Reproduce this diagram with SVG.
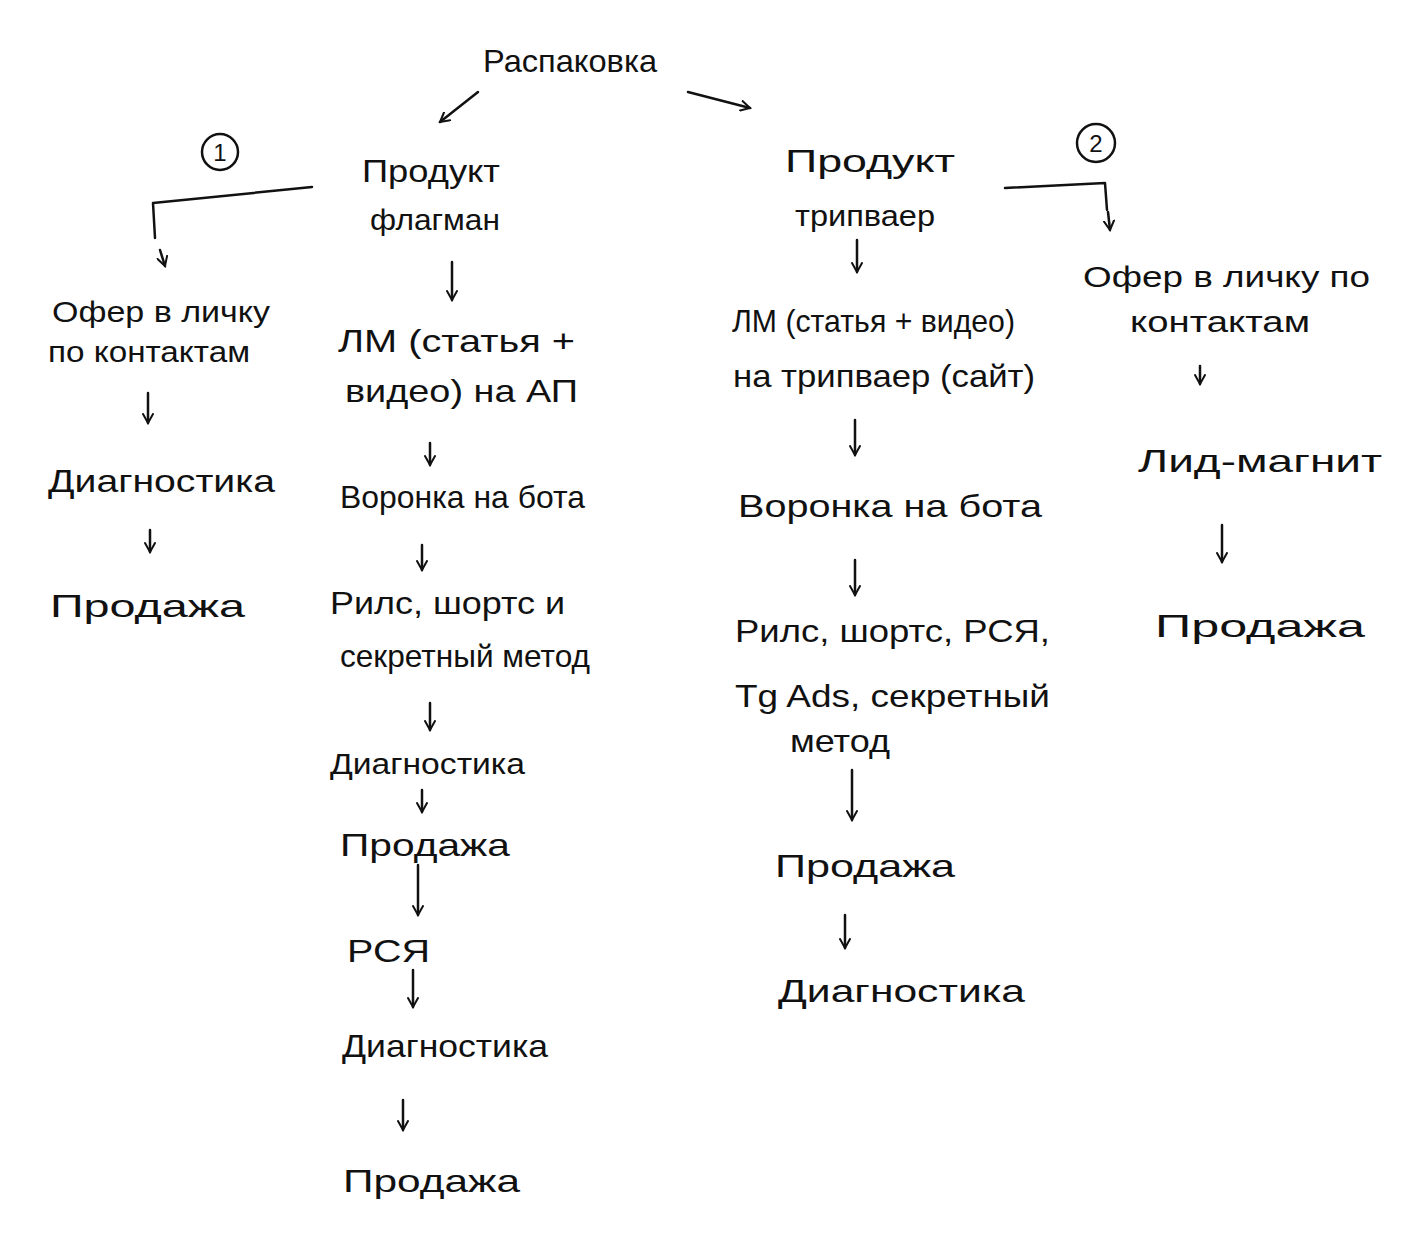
<svg xmlns="http://www.w3.org/2000/svg" width="1403" height="1259" viewBox="0 0 1403 1259">
<style>
text{font-family:"Liberation Sans","DejaVu Sans",sans-serif;fill:#111;}
.t{font-size:32px;}
.s{font-size:29px;}
.c{font-size:24px;text-anchor:middle;}
.ln{fill:none;stroke:#111;stroke-width:2.5;stroke-linecap:round;stroke-linejoin:round;}
.ar{fill:none;stroke:#111;stroke-width:2.5;stroke-linecap:round;marker-end:url(#ah);}
</style>
<defs>
<marker id="ah" viewBox="0 0 12 12" refX="10" refY="6" markerWidth="12" markerHeight="12" markerUnits="userSpaceOnUse" orient="auto">
<path d="M1,1 L10,6 L1,11" fill="none" stroke="#111" stroke-width="2" stroke-linecap="round"/>
</marker>
</defs>
<rect width="1403" height="1259" fill="#fff"/>

<g id="connectors">
<path class="ar" d="M478,92 L440,122"/>
<path class="ar" d="M688,92 L750,108"/>
<path class="ln" d="M312,187 L153,203 L155,238"/>
<path class="ar" d="M160,250 L165,266"/>
<path class="ln" d="M1005,188 L1105,183 L1107,210"/>
<path class="ar" d="M1108,212 L1110,230"/>
<path class="ar" d="M148,393 L148,423"/>
<path class="ar" d="M150,530 L150,552"/>
<path class="ar" d="M452,262 L452,300"/>
<path class="ar" d="M430,443 L430,465"/>
<path class="ar" d="M422,545 L422,570"/>
<path class="ar" d="M430,703 L430,730"/>
<path class="ar" d="M422,790 L422,812"/>
<path class="ar" d="M418,865 L418,915"/>
<path class="ar" d="M413,970 L413,1007"/>
<path class="ar" d="M403,1100 L403,1130"/>
<path class="ar" d="M857,240 L857,272"/>
<path class="ar" d="M855,420 L855,455"/>
<path class="ar" d="M855,560 L855,595"/>
<path class="ar" d="M852,770 L852,820"/>
<path class="ar" d="M845,915 L845,948"/>
<path class="ar" d="M1200,366 L1200,384"/>
<path class="ar" d="M1222,525 L1222,562"/>
</g>

<g id="n-root"><text class="t" x="483" y="72" textLength="174" lengthAdjust="spacingAndGlyphs">Распаковка</text></g>
<g id="mark-1"><circle class="ln" cx="220" cy="152" r="18"/><text class="c" x="220" y="161">1</text></g>
<g id="mark-2"><circle class="ln" cx="1096" cy="143" r="19"/><text class="c" x="1096" y="152">2</text></g>

<g id="n-flagship"><text class="t" x="362" y="182" textLength="138" lengthAdjust="spacingAndGlyphs">Продукт</text><text class="s" x="370" y="230" textLength="130" lengthAdjust="spacingAndGlyphs">флагман</text></g>
<g id="n-tripwire"><text class="t" x="785" y="172" textLength="170" lengthAdjust="spacingAndGlyphs">Продукт</text><text class="s" x="795" y="226" textLength="140" lengthAdjust="spacingAndGlyphs">трипваер</text></g>

<g id="n-l-offer"><text class="s" x="52" y="322" textLength="218" lengthAdjust="spacingAndGlyphs">Офер в личку</text><text class="s" x="48" y="362" textLength="202" lengthAdjust="spacingAndGlyphs">по контактам</text></g>
<g id="n-l-diag"><text class="t" x="48" y="492" textLength="227" lengthAdjust="spacingAndGlyphs">Диагностика</text></g>
<g id="n-l-sale"><text class="t" x="50" y="617" textLength="195" lengthAdjust="spacingAndGlyphs">Продажа</text></g>

<g id="n-c2-lm"><text class="t" x="338" y="352" textLength="237" lengthAdjust="spacingAndGlyphs">ЛМ (статья +</text><text class="t" x="345" y="402" textLength="233" lengthAdjust="spacingAndGlyphs">видео) на АП</text></g>
<g id="n-c2-funnel"><text class="t" x="340" y="508" textLength="245" lengthAdjust="spacingAndGlyphs">Воронка на бота</text></g>
<g id="n-c2-reels"><text class="t" x="330" y="614" textLength="235" lengthAdjust="spacingAndGlyphs">Рилс, шортс и</text><text class="t" x="340" y="667" textLength="250" lengthAdjust="spacingAndGlyphs">секретный метод</text></g>
<g id="n-c2-diag1"><text class="s" x="330" y="774" textLength="195" lengthAdjust="spacingAndGlyphs">Диагностика</text></g>
<g id="n-c2-sale1"><text class="t" x="340" y="856" textLength="170" lengthAdjust="spacingAndGlyphs">Продажа</text></g>
<g id="n-c2-rsya"><text class="t" x="347" y="962" textLength="83" lengthAdjust="spacingAndGlyphs">РСЯ</text></g>
<g id="n-c2-diag2"><text class="t" x="342" y="1057" textLength="206" lengthAdjust="spacingAndGlyphs">Диагностика</text></g>
<g id="n-c2-sale2"><text class="t" x="343" y="1192" textLength="177" lengthAdjust="spacingAndGlyphs">Продажа</text></g>

<g id="n-c3-lm"><text class="t" x="732" y="332" textLength="283" lengthAdjust="spacingAndGlyphs">ЛМ (статья + видео)</text><text class="t" x="733" y="387" textLength="302" lengthAdjust="spacingAndGlyphs">на трипваер (сайт)</text></g>
<g id="n-c3-funnel"><text class="t" x="738" y="517" textLength="304" lengthAdjust="spacingAndGlyphs">Воронка на бота</text></g>
<g id="n-c3-reels"><text class="t" x="735" y="642" textLength="315" lengthAdjust="spacingAndGlyphs">Рилс, шортс, РСЯ,</text><text class="t" x="735" y="707" textLength="315" lengthAdjust="spacingAndGlyphs">Tg Ads, секретный</text><text class="t" x="790" y="752" textLength="100" lengthAdjust="spacingAndGlyphs">метод</text></g>
<g id="n-c3-sale"><text class="t" x="775" y="877" textLength="180" lengthAdjust="spacingAndGlyphs">Продажа</text></g>
<g id="n-c3-diag"><text class="t" x="778" y="1002" textLength="247" lengthAdjust="spacingAndGlyphs">Диагностика</text></g>

<g id="n-r-offer"><text class="s" x="1083" y="287" textLength="287" lengthAdjust="spacingAndGlyphs">Офер в личку по</text><text class="s" x="1130" y="332" textLength="180" lengthAdjust="spacingAndGlyphs">контактам</text></g>
<g id="n-r-lead"><text class="t" x="1138" y="472" textLength="244" lengthAdjust="spacingAndGlyphs">Лид-магнит</text></g>
<g id="n-r-sale"><text class="t" x="1155" y="637" textLength="210" lengthAdjust="spacingAndGlyphs">Продажа</text></g>
</svg>
